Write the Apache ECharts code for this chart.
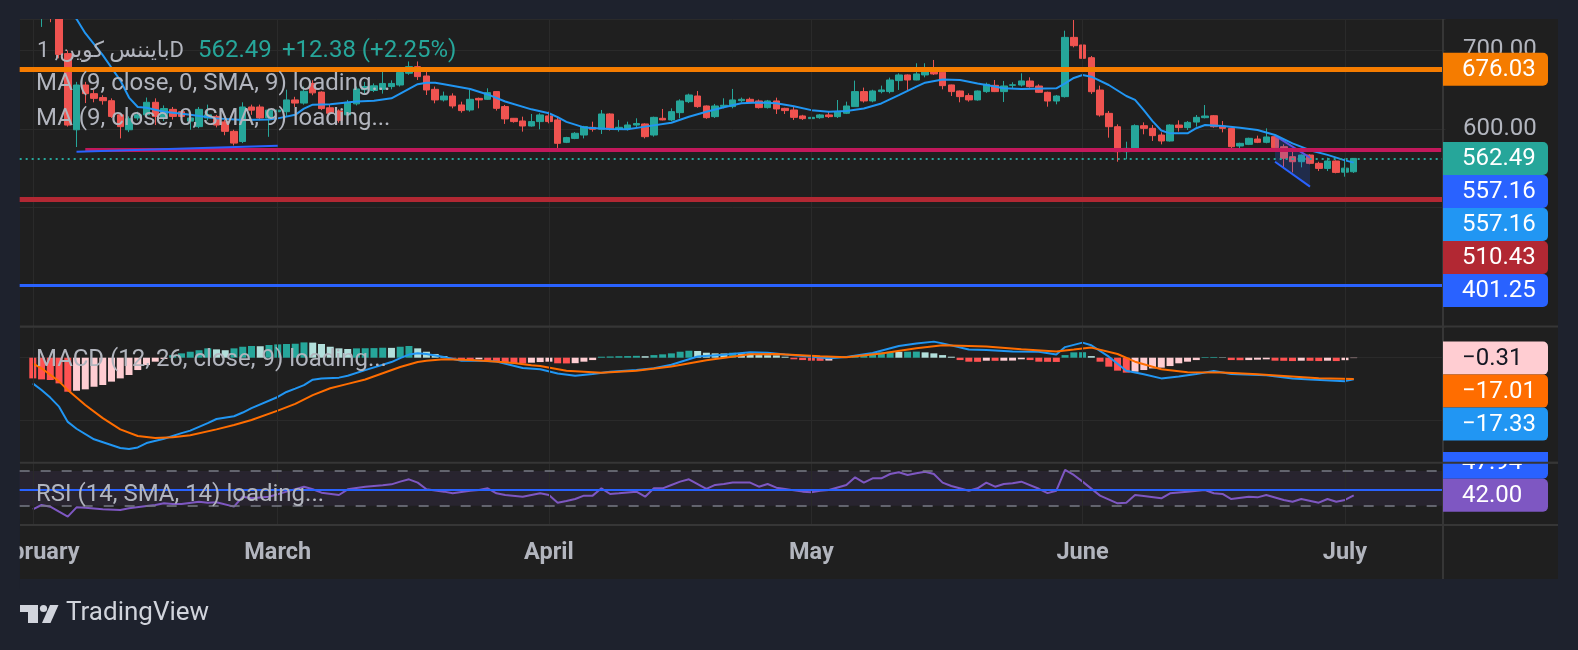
<!DOCTYPE html>
<html><head><meta charset="utf-8">
<script src="https://cdn.jsdelivr.net/npm/echarts@6/dist/echarts.min.js"></script>
<style>html,body{margin:0;padding:0;background:#1e222d;}#c{width:1578px;height:650px;}</style>
</head><body><div id="c"></div>
<script>
// ---------- categories (daily, 2025-01-31 .. 2025-07-12) ----------
const firstCategoryDate = '2025-01-31';
const categoryCount = 163;
const monthStarts = ['2025-02-01','2025-03-01','2025-04-01','2025-05-01','2025-06-01','2025-07-01'];
const monthNames = {'02':'February','03':'March','04':'April','05':'May','06':'June','07':'July'};
const categories = [];
{ const t0 = Date.parse(firstCategoryDate + 'T00:00:00Z');
  for (let i = 0; i < categoryCount; i++) categories.push(new Date(t0 + i * 86400000).toISOString().slice(0, 10)); }
// day number d = days since 2025-02-01  -> category index d+1
const dayName = d => categories[d + 1];

// ---------- candles (first candle = day 1) ----------
const candleFirstDay = 1;
const opens = [745,758,748,696,599,656,645,640,636,618,599,614,618,634,614,625,622,610,603,614,616,609,597,584,628,628,614,622,622,637,633,658,647,627,623,618,632,650,649,650.5,654,656,671,679.4,667.5,650.5,637,642,630.6,624.2,639,637.8,647.6,628.5,613.6,610.2,603.8,609.4,616.6,611.5,583,588,592.3,602,599.6,619.1,599.6,600.5,605,606.4,592.3,613.6,611.5,620.8,634.8,642,629.3,615.7,628.5,628.5,636,637.8,635.7,627.2,635.7,626.3,624.2,616.6,613.2,614.4,617.9,615.7,620,628.5,647.6,635.7,647.6,647.6,661.6,668.8,662.4,668.8,676.4,672.2,656.1,648.4,642.5,637,647.6,655.6,647.6,655.6,656,661.1,654.7,646.7,635.6,641.2,716.7,707,690.8,649.6,619.9,602.9,571.1,573.2,604.2,600.8,592.3,584.7,605,601.7,608.8,614.4,616.9,603.8,600.8,578.3,580.4,587.2,583,590.2,577.4,564.7,558.3,566.8,556.2,549.8,559.2,545,545.5];
const closes = [752,748,695,605,656,645,639,636,616,603,613,618,634,616,626,616,616,614,625,618,605,597,582,628,624,614,624,624,637,633,648,646,626,620,611,634,651,654,655,658,658,672,679.4,666.7,649.7,637,642,629.3,623.4,637.8,637,646.3,626.3,612.8,609.4,603.8,609.4,617.9,609.4,581.7,589,594.5,603,599.6,619.1,599.6,602.1,605.1,607,590.2,614.8,611.5,622.1,635.7,643.3,628.5,614.4,629.3,630.2,637,637.8,634.4,627.2,635.7,625.5,623.4,614.8,613.2,614.8,617.9,615.7,622.1,629.3,647.6,635.7,648.4,649.7,662.4,668.8,662.4,670.1,676.4,670.1,655.2,647.6,641.2,637,648.4,656.9,647.6,654.8,656.3,661.2,653.9,646.7,635.6,642,716.7,706.1,690,647.5,617.8,602.9,571.1,575.3,604.2,600.8,591.5,584.7,605,601.7,608.4,614.8,616.5,602.9,600.8,577.4,581.7,588.1,583,589.8,576.2,562.6,558.3,566.8,556.2,549.8,559.2,544.7,550.11,562.49];
const lows = [730,736,690,603,577,633,634,631,614,588,596,611,616,605,610,612,613,599,601,611,602,592,579,582,618,611,590,618,616,628,631,643,624,618,608,616,630,645,647,645,650.5,654,669,662.4,643.3,632.7,635,626.3,620.8,622.1,626.3,637,623.4,606.4,608,596.6,603,599.6,607.2,571.1,582,587,588,596.6,593.6,598,596.6,598,602,588,590.2,611,610,613.6,633,627,613,614,626.3,626.3,634,633,626,626,619.1,619.1,611.5,611.5,611.5,613,614,614,619,628.5,633.6,634,645.4,645.4,649.7,649.7,662,665.8,668.8,650.5,642,634,634.8,636,646,647,634.4,652,654,652.6,646,628.4,631.4,640,704,675.1,644.6,615.7,588.9,558.3,561.3,572,593.2,584.7,580.4,584,596.6,598.7,602.9,613.5,601.6,595.7,573.2,571.1,579.5,582,581.7,571.1,549.8,544.7,551.1,555,546.4,546.4,543.5,539.2,544];
const highs = [758,762,752,700,660,660,650,643,639,620,616,622,640,639,630,628,624,618,628,631,618,612,599,634,631,631,626,627,650,641,654,662,648,631,625,637,654,660,658,677,662,677,686,686,675,654,647.6,645.4,634.8,649.7,640,651.8,648,630.6,614,615.7,619.1,620,622.1,614.8,590,596,604,609.3,624.2,620,611.5,609.3,613.6,607.2,615.7,625.5,626.3,637.8,645,648.4,630,631.9,639.1,651,640,640,637.5,637,639.9,627,629.3,618,622.1,619,622,636.9,634.8,661.6,652.7,650,655.2,665.4,670.9,669.5,683.7,683.7,687.9,674,656.5,649,645.4,649,659,662.4,661.2,659.5,670.9,665.8,656.9,647.5,643.3,725.2,738.8,724,693,655.2,622.9,605.9,583.8,605.9,608.4,605,595.7,606,611,610.1,617.8,630.5,617.8,610.1,601.5,582.5,588.9,591.5,600.8,591,580.4,571.1,567.5,567.7,558.3,563.4,560,562.6,563];

// ---------- MA (9, close) ----------
const maDays = [4,5,6,7,8,9,10,11,12,13,15,18,21,24,27,28,30,31,32,34,37,39,41,42,43,44,45,46,47,50,52,54,57,59,60,61,63,66,68,70,73,75,77,79,81,83,85,87,89,91,93,95,97,99,101,102,104,106,108,109,111,113,117,118,119,120,121,123,125,126,127,128,129,130,132,133,134,136,138,140,142,144,146,148,150,151];
const maValues = [755,740,722,708,694,678,662,640,628,627,622,618,613.5,611.5,612,613.5,618,626,631,631.5,635,636,639,645,651,657,659,659,657,651,644,635,625,620,615,609,602,600,599.6,603,608,615.5,622,627.6,632.7,633.6,632.7,629,624,622,623,626,632.5,643,654,659,663,662.4,658,656,652,651,651.8,658,665,668.8,666.6,656,642,637,624,610,598,594.4,594.4,601,605,603.8,601.6,598.7,592.3,581.7,573,567,560,557.16];

// ---------- drawings ----------
const hLineValues = [676.03, 510.43, 401.25];
const hLineColors = ['#f57c00', '#b22833', '#2962ff'];
const hLineWidths = [5, 5, 3];
const lastPrice = 562.49;
const pinkLineStartDay = 6, pinkLineValue = 573.5;
const trendDays = [5, 28], trendValues = [571.1, 578.7];
const channelDays = [142, 146], channelTop = [591.5, 563.4], channelBottom = [558.3, 526.5];

// ---------- MACD ----------
const histFirstDay = 0;
const macdHist = [-16.6,-17.4,-17.9,-20.6,-27.3,-26.5,-25.4,-23.3,-21.9,-19.2,-16.6,-13.9,-9.9,-5.9,-3.2,-1,2,3.5,4.8,6,7.5,6.7,6,7.5,8.8,9.4,9.2,10.2,10.7,11,11.2,12.3,12.1,11,8.8,7.5,7,7.5,7.6,7.7,8,7.9,8.8,9.4,7.5,4.8,3,1.3,-0.5,-1.3,-1.9,-1.3,-1.9,-3.2,-3.7,-4.5,-4.6,-4,-3.5,-3.2,-4.5,-4.6,-4.4,-3.2,-1.9,0.8,1,1.2,1.3,1.5,1.2,2.1,2.7,3.5,4.8,5.6,5.4,4,3.5,3.4,4,3.5,3.4,2.1,2,1.9,0.8,-1.3,-1.9,-2.4,-2.5,-2.3,0.8,1.3,2.1,2.7,3.5,4.3,4.8,4.7,4.8,4.9,4.3,3.5,2.1,0.8,-1.9,-3.2,-3.3,-2.4,-2.5,-2.4,-2.3,-1.3,-1.9,-3.2,-3.3,-3.4,2.1,4.3,4.4,1.3,-3.2,-7.2,-10.4,-12,-11.2,-9.9,-8.6,-8,-6.7,-4.5,-3.2,-1.9,0.5,0.6,0.3,-1.9,-2,-1.9,-1.6,-1.3,-2.4,-2.5,-2.7,-2.4,-2.5,-2.7,-2.4,-2.7,-2,-0.31];
const macdDays = [0,1,2,3,4,5,7,10,11,12,13,15,17,18,20,21,23,24,25,28,29,30,31,32,33,35,36,38,41,42,43,44,45,47,49,51,53,56,58,60,62,64,66,69,71,73,76,79,82,84,86,89,91,93,96,99,101,103,104,107,109,112,115,117,118,120,121,123,125,127,129,131,133,135,137,141,144,146,150,151];
const macdValues = [-20.6,-25.9,-32,-39.3,-51.5,-57,-65.5,-72.5,-73.3,-72,-68.5,-65,-60.5,-58.5,-52.5,-49.2,-47,-44,-40.5,-31.5,-27.5,-24.8,-22,-17.6,-16.7,-16,-14.5,-10,-3.5,-0.3,2.5,3.5,3,0.5,-2.4,-2.4,-3,-8.3,-9.3,-12.6,-14.4,-13.1,-11.2,-9.9,-8.5,-5.6,1,2.3,4.3,4,2.5,0.7,-0.5,0.6,3.8,9.4,11.4,12.9,11.5,6.6,6.2,5,4.8,2.5,8.5,12.1,10,0.8,-10.5,-13.3,-16.6,-15,-13,-10.7,-13.1,-14,-16.6,-17.4,-18.8,-17.33];
const signalDays = [0,1,3,4,6,8,10,12,14,16,18,21,23,25,28,30,32,34,36,38,40,42,44,45,47,50,52,55,57,58,61,65,69,73,77,82,85,90,93,97,101,104,109,113,117,119,121,124,126,129,132,136,140,143,147,151];
const signalValues = [-4.5,-8.5,-19,-26,-38,-48.5,-57.5,-62.8,-64.4,-63.8,-62.2,-57.5,-54,-50,-42.5,-37,-30,-24.5,-21,-17.5,-12.5,-7.5,-3.5,-2.4,-1.3,-1.8,-2.6,-4.3,-6,-6.7,-10.4,-12,-10.4,-7,-2,2.8,3,1.2,0.3,3.3,7.5,10,8.9,6.7,5,6.5,8.1,3,-3.2,-9.3,-11.7,-11.8,-13.2,-14.6,-16.5,-17.01];

// ---------- RSI ----------
const rsiDays = [0,1,2,3,4,5,6,8,10,11,13,14,15,16,17,19,20,21,23,24,25,27,29,31,32,33,35,36,38,40,41,42,43,44,45,47,48,50,51,52,53,54,56,58,59,60,61,62,63,64,65,66,67,69,70,71,72,73,74,75,77,78,79,80,82,83,84,85,86,88,89,90,91,93,94,95,96,97,98,99,100,101,102,103,104,105,107,108,109,110,111,112,113,115,116,117,118,119,120,122,124,125,126,127,129,130,132,134,135,136,137,139,140,141,143,144,145,147,148,149,150,151];
const rsiValues = [25.8,30.8,28.9,23.1,17.4,28.1,27.5,25.8,25,27,29.7,30.8,32.7,32,32,34.6,33.5,33.9,28.9,40.4,38.5,40.4,46.2,51.9,48.9,45,42.3,48.9,51.9,53.5,54.6,57.7,60.4,56.6,48.9,46.2,44.3,47.3,48.1,50,44.3,42.3,40.4,44.3,42.3,33.5,35.4,37.7,41.6,41.6,50,43.5,44.3,46.2,40.4,50,50,53.9,57.7,60.4,49.3,53.9,55,56.6,56.6,51.9,55,50.8,49.3,46.2,45.4,47.3,48.1,53.9,62.7,56.6,61.5,61.5,66.5,68.5,65.4,67.3,69.2,66.5,56.6,52.7,47.3,50,56.6,51.9,55,55.8,57.7,49.5,44.5,47.3,71.2,65.4,57.7,41.6,32.7,33.5,42.3,41.2,38.5,44.3,46.2,48.1,44.3,43.5,37.7,40.4,39.6,42.3,36.6,34.6,37.7,33.5,37.7,34.6,36.6,42.0];
const rsiMaValue = 47.94;
const rsiUpper = 70, rsiLower = 30;

// ---------- price tags ----------
const mainTags = [
  {v:676.03, t:'676.03', bg:'#f57c00', fg:'#ffffff'},
  {v:562.49, t:'562.49', bg:'#26a69a', fg:'#ffffff'},
  {v:557.16, t:'557.16', bg:'#2962ff', fg:'#ffffff'},
  {v:557.16, t:'557.16', bg:'#2196f3', fg:'#ffffff'},
  {v:510.43, t:'510.43', bg:'#b22833', fg:'#ffffff'},
  {v:401.25, t:'401.25', bg:'#2962ff', fg:'#ffffff'}];
const macdTags = [
  {v:-0.31, t:'\u22120.31', bg:'#ffcdd2', fg:'#131722'},
  {v:-17.01, t:'\u221217.01', bg:'#ff6d00', fg:'#ffffff'},
  {v:-17.33, t:'\u221217.33', bg:'#2196f3', fg:'#ffffff'}];
const rsiTags = [
  {v:47.94, t:'47.94', bg:'#2962ff', fg:'#ffffff'},
  {v:42.00, t:'42.00', bg:'#7e57c2', fg:'#ffffff'}];

// ================= build =================
const PANE = '#1f1f1f', OUTER = '#1e222d', GRID = '#2a2a2a', SEP = '#363636', TXT = '#b2b5be';
const FONT = 'Roboto, "Noto Sans", "DejaVu Sans", sans-serif';
const L = 19.67, R = 1578 - 1445.6;
const pairs = (days, vals) => days.map((d, i) => [dayName(d), vals[i]]);

const candleData = categories.map((c, i) => {
  const k = i - 1 - candleFirstDay;
  return (k >= 0 && k < opens.length) ? [opens[k], closes[k], lows[k], highs[k]] : '-';
});
const histData = categories.map((c, i) => {
  const k = i - 1 - histFirstDay;
  if (k < 0 || k >= macdHist.length) return '-';
  const v = macdHist[k], p = k > 0 ? macdHist[k - 1] : null;
  let col;
  if (v >= 0) col = (p === null || v >= p) ? '#26a69a' : '#b2dfdb';
  else col = (p === null || v < p) ? '#ff5252' : '#ffcdd2';
  return {value: v, itemStyle: {color: col}};
});

const monthLineSeries = gi => ({
  type: 'line', xAxisIndex: gi, yAxisIndex: gi, data: [], z: 1, silent: true,
  markLine: {silent: true, symbol: ['none', 'none'], label: {show: false},
    lineStyle: {color: GRID, width: 1, type: 'solid'},
    data: monthStarts.map(m => ({xAxis: m}))}
});

const xAxes = [0, 1, 2].map(i => ({
  type: 'category', gridIndex: i, data: categories, boundaryGap: true,
  axisLine: {show: false}, axisTick: {show: false}, splitLine: {show: false},
  axisLabel: i === 2 ? {
    show: true, interval: (idx, val) => monthStarts.indexOf(val) >= 0,
    formatter: val => monthNames[val.slice(5, 7)] || '',
    color: TXT, fontSize: 23.5, fontWeight: 'bold', fontFamily: FONT, margin: 16
  } : {show: false}
}));

const gridBase = {left: L, right: R, containLabel: false, outerBoundsMode: 'none'};
const option = {
  backgroundColor: OUTER,
  animation: false,
  grid: [
    Object.assign({top: 19, height: 307}, gridBase),
    Object.assign({top: 327, height: 135.5}, gridBase),
    Object.assign({top: 463, height: 62}, gridBase)
  ],
  xAxis: xAxes,
  yAxis: [
    {type: 'value', gridIndex: 0, position: 'right', min: 349, max: 740.1, splitNumber: 4,
     axisLine: {show: false}, axisTick: {show: false},
     splitLine: {lineStyle: {color: GRID, width: 1}},
     axisLabel: {color: TXT, fontSize: 24, fontFamily: FONT, margin: 17.4,
       formatter: v => (Math.abs(v - Math.round(v / 100) * 100) < 1e-6 ? v.toFixed(2) : '')}},
    {type: 'value', gridIndex: 1, position: 'right', min: -84.1, max: 24.64, splitNumber: 2,
     axisLine: {show: false}, axisTick: {show: false}, axisLabel: {show: false},
     splitLine: {lineStyle: {color: GRID, width: 1}}},
    {type: 'value', gridIndex: 2, position: 'right', min: 7.75, max: 79.2,
     axisLine: {show: false}, axisTick: {show: false}, axisLabel: {show: false}, splitLine: {show: false}}
  ],
  series: [
    monthLineSeries(0), monthLineSeries(1), monthLineSeries(2),
    {type: 'candlestick', xAxisIndex: 0, yAxisIndex: 0, data: candleData, barWidth: 7, z: 3, clip: true,
     itemStyle: {color: '#26a69a', color0: '#ef5350', borderColor: '#26a69a', borderColor0: '#ef5350', borderWidth: 1}},
    {type: 'line', xAxisIndex: 0, yAxisIndex: 0, data: pairs(maDays, maValues), symbol: 'none', z: 4, clip: true,
     lineStyle: {color: '#2196f3', width: 2}},
    {type: 'custom', xAxisIndex: 0, yAxisIndex: 0, z: 4, silent: true, clip: true,
     data: channelDays.map((d, i) => [d + 1, channelTop[i]]),
     renderItem: (params, api) => {
       if (params.dataIndex !== 0) return null;
       const t0 = api.coord([channelDays[0] + 1, channelTop[0]]), t1 = api.coord([channelDays[1] + 1, channelTop[1]]);
       const b0 = api.coord([channelDays[0] + 1, channelBottom[0]]), b1 = api.coord([channelDays[1] + 1, channelBottom[1]]);
       return {type: 'group', children: [
         {type: 'polygon', shape: {points: [t0, t1, b1, b0]}, style: {fill: 'rgba(41,98,255,0.2)'}},
         {type: 'polyline', shape: {points: [t0, t1]}, style: {stroke: '#5b55e0', lineWidth: 2, fill: null}},
         {type: 'polyline', shape: {points: [b0, b1]}, style: {stroke: '#2962ff', lineWidth: 2, fill: null}}
       ]};
     }},
    {type: 'line', xAxisIndex: 0, yAxisIndex: 0, data: [], z: 5, silent: true,
     markLine: {silent: true, symbol: ['none', 'none'], label: {show: false}, lineStyle: {type: 'solid'},
       data: [
         ...hLineValues.map((v, i) => ({yAxis: v, lineStyle: {color: hLineColors[i], width: hLineWidths[i], type: 'solid'}})),
         {yAxis: lastPrice, lineStyle: {color: '#26a69a', width: 2, type: [2, 4]}},
         [{coord: [dayName(pinkLineStartDay), pinkLineValue], lineStyle: {color: '#c2185b', width: 4, type: 'solid'}},
          {coord: [categories[categories.length - 1], pinkLineValue]}],
         [{coord: [dayName(trendDays[0]), trendValues[0]], lineStyle: {color: '#2962ff', width: 2, type: 'solid'}},
          {coord: [dayName(trendDays[1]), trendValues[1]]}]
       ]}},
    // MACD
    {type: 'bar', xAxisIndex: 1, yAxisIndex: 1, data: histData, barWidth: 7, z: 2},
    {type: 'line', xAxisIndex: 1, yAxisIndex: 1, data: pairs(macdDays, macdValues), symbol: 'none', z: 3,
     lineStyle: {color: '#2196f3', width: 2}},
    {type: 'line', xAxisIndex: 1, yAxisIndex: 1, data: pairs(signalDays, signalValues), symbol: 'none', z: 3,
     lineStyle: {color: '#ff6d00', width: 2}},
    // RSI
    {type: 'line', xAxisIndex: 2, yAxisIndex: 2, data: [], z: 1, silent: true,
     markArea: {silent: true, itemStyle: {color: 'rgba(126,87,194,0.1)'}, data: [[{yAxis: rsiUpper}, {yAxis: rsiLower}]]},
     markLine: {silent: true, symbol: ['none', 'none'], label: {show: false},
       data: [
         {yAxis: rsiUpper, lineStyle: {color: '#787b86', width: 1.5, type: [10, 11]}},
         {yAxis: rsiLower, lineStyle: {color: '#787b86', width: 1.5, type: [10, 11]}},
         {yAxis: rsiMaValue, lineStyle: {color: '#2962ff', width: 2, type: 'solid'}}
       ]}},
    {type: 'line', xAxisIndex: 2, yAxisIndex: 2, data: pairs(rsiDays, rsiValues), symbol: 'none', z: 3,
     lineStyle: {color: '#7e57c2', width: 2}}
  ]
};

const chart = echarts.init(document.getElementById('c'), null, {renderer: 'canvas'});
chart.setOption(option);

// ---------- overlay graphics ----------
const G = [];
G.push({type: 'rect', silent: true, z: -10, shape: {x: 20, y: 19, width: 1538, height: 560}, style: {fill: PANE}});
// cover anything drawn above the top of the frame
G.push({type: 'rect', silent: true, z: 90, shape: {x: 0, y: 0, width: 1578, height: 19}, style: {fill: OUTER}});
// separators
[326.5, 462.7, 525].forEach(y => G.push({type: 'line', silent: true, z: 60, shape: {x1: 20, y1: y, x2: 1558, y2: y}, style: {stroke: SEP, lineWidth: 2}}));
G.push({type: 'line', silent: true, z: 60, shape: {x1: 1443, y1: 19, x2: 1443, y2: 579}, style: {stroke: SEP, lineWidth: 2}});

// tags
const TH = 33;
const TAGFONT = '24px ' + FONT;
function tagEls(tags, gi, dir) {
  const ys = tags.map(t => chart.convertToPixel({yAxisIndex: gi}, t.v));
  const pos = ys.slice();
  if (dir === 'down') { for (let i = 1; i < pos.length; i++) pos[i] = Math.max(ys[i], pos[i - 1] + TH); }
  else { for (let i = pos.length - 2; i >= 0; i--) pos[i] = Math.min(ys[i], pos[i + 1] - TH); }
  tags.forEach((t, i) => {
    const yc = pos[i];
    const top = (gi === 2) ? Math.max(yc - TH / 2, 452) : yc - TH / 2;
    G.push({type: 'rect', silent: true, z: 70, shape: {x: 1443, y: top, width: 105, height: yc + TH / 2 - top, r: [0, 5, 5, 0]}, style: {fill: t.bg}});
    G.push({type: 'text', silent: true, z: 71, x: 1462, y: yc + 1,
      style: {text: t.t, fill: t.fg, font: TAGFONT, align: 'left', verticalAlign: 'middle', textAlign: 'left', textVerticalAlign: 'middle'}});
    if (gi === 2 && top > yc - TH / 2) {
      G.push({type: 'rect', silent: true, z: 72, shape: {x: 1443, y: top, width: 105, height: 463.5 - top}, style: {fill: t.bg}});
    }
  });
}
tagEls(mainTags, 0, 'down');
tagEls(macdTags, 1, 'down');
tagEls(rsiTags, 2, 'up');
// separator over the rsi tag
G.push({type: 'line', silent: true, z: 75, shape: {x1: 1443, y1: 462.7, x2: 1558, y2: 462.7}, style: {stroke: SEP, lineWidth: 2}});

// legend texts
const txt = (x, y, s, c, size) => G.push({type: 'text', silent: true, z: 100, x: x, y: y,
  style: {text: s, fill: c, font: (size || 24) + 'px ' + FONT, align: 'left', verticalAlign: 'middle', textAlign: 'left', textVerticalAlign: 'middle'}});
txt(37, 51, 'بايننس كوين, 1D', TXT, 22);
txt(198, 51, '562.49', '#26a69a');
txt(282, 51, '+12.38 (+2.25%)', '#26a69a');
txt(36, 84, 'MA (9, close, 0, SMA, 9) loading...', TXT);
txt(36, 119, 'MA (9, close, 0, SMA, 9) loading...', TXT);
txt(36, 360, 'MACD (12, 26, close, 9) loading...', TXT);
txt(36, 495, 'RSI (14, SMA, 14) loading...', TXT);

// left clip for the first month label
G.push({type: 'rect', silent: true, z: 200, shape: {x: 0, y: 519, width: 19.6, height: 70}, style: {fill: OUTER}});

// TradingView logo
const LOGO = '#d1d4dc';
G.push({type: 'rect', silent: true, z: 100, shape: {x: 20, y: 605, width: 18, height: 7}, style: {fill: LOGO}});
G.push({type: 'rect', silent: true, z: 100, shape: {x: 28, y: 605, width: 10, height: 18}, style: {fill: LOGO}});
G.push({type: 'circle', silent: true, z: 100, shape: {cx: 43.5, cy: 608.5, r: 3.6}, style: {fill: LOGO}});
G.push({type: 'polygon', silent: true, z: 100, shape: {points: [[50, 605], [58.5, 605], [50.5, 623], [42, 623]]}, style: {fill: LOGO}});
G.push({type: 'text', silent: true, z: 100, x: 66, y: 613,
  style: {text: 'TradingView', fill: LOGO, font: '26px ' + FONT, align: 'left', verticalAlign: 'middle', textAlign: 'left', textVerticalAlign: 'middle'}});

chart.setOption({graphic: {elements: G}});
</script>
</body></html>
